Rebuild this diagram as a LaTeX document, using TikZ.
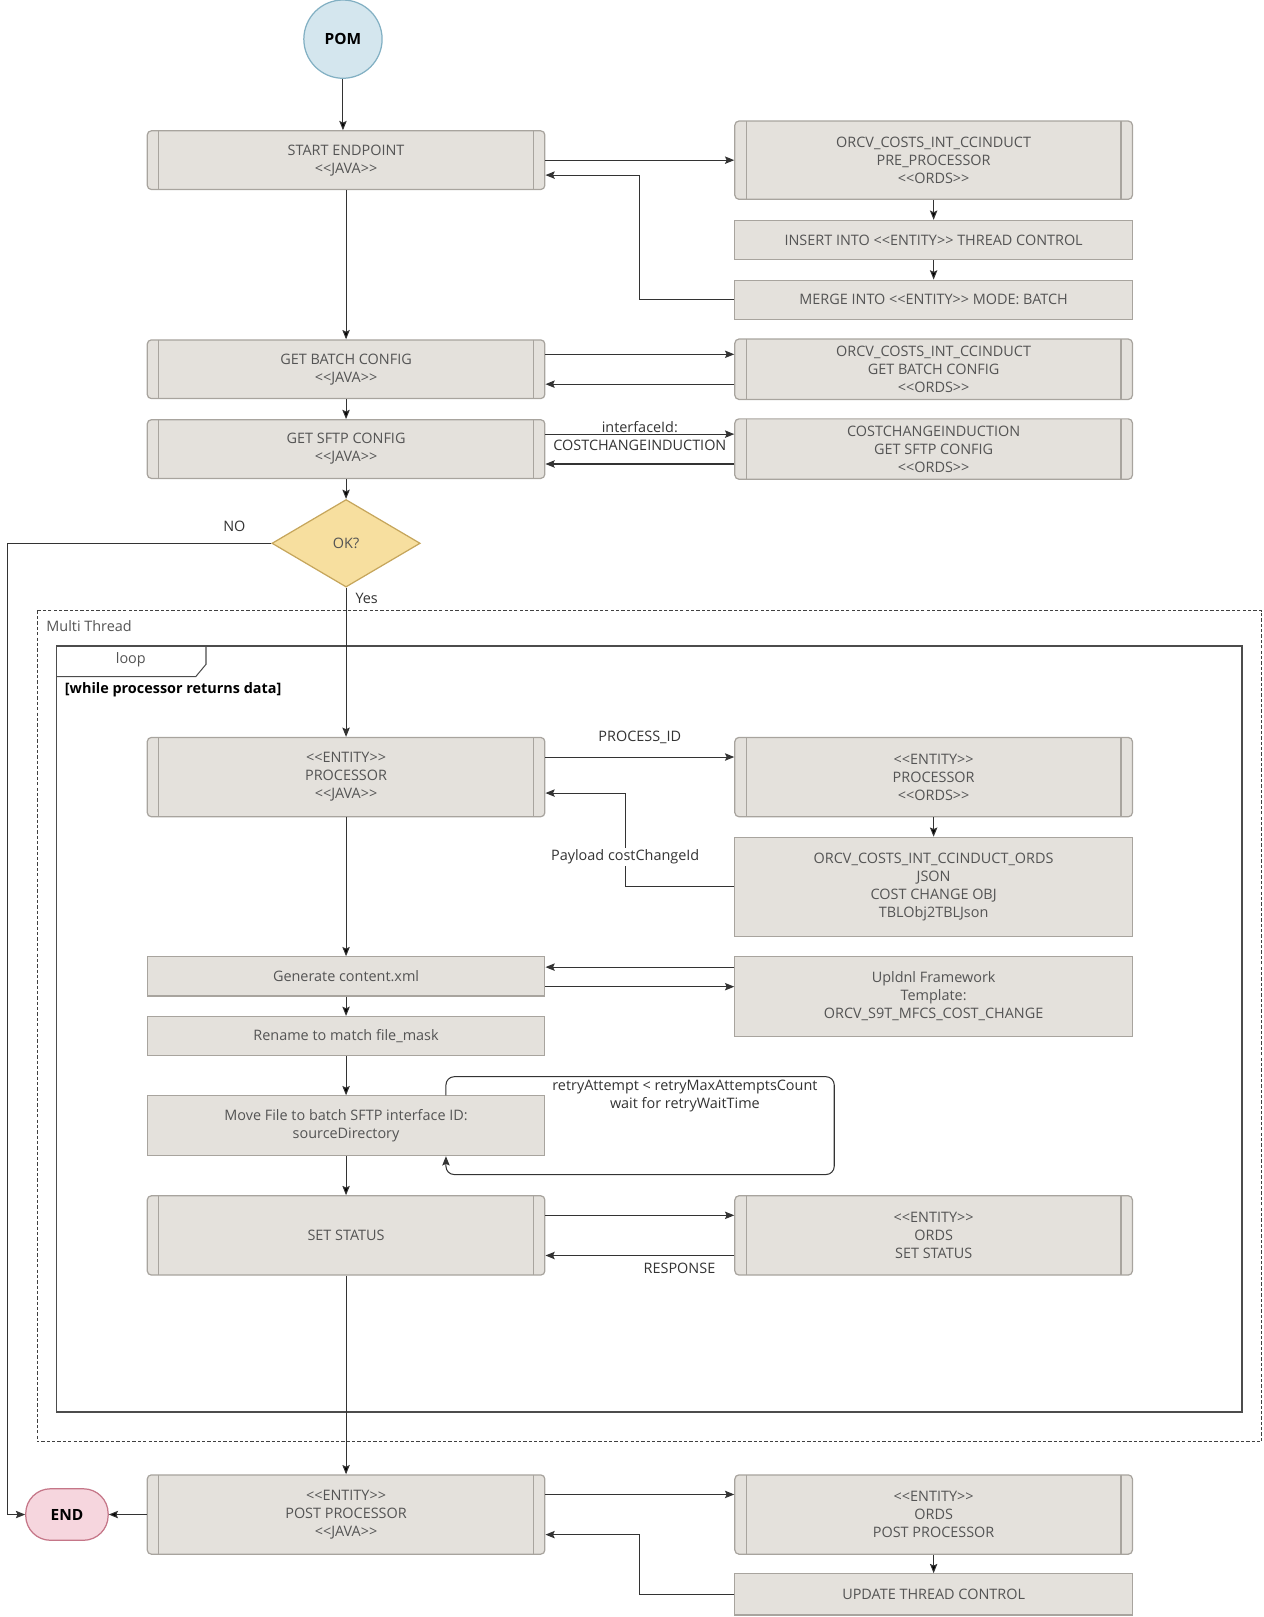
\documentclass[tikz,border=0pt]{standalone}
\usepackage{fontspec}
\setmainfont{Open Sans}
\usetikzlibrary{arrows.meta, positioning, shapes.geometric}

\definecolor{boxfill}{HTML}{E4E1DC}
\definecolor{boxline}{HTML}{A8A49E}
\definecolor{boxtext}{HTML}{545454}
\definecolor{linegray}{HTML}{333333}
\definecolor{pomfill}{HTML}{D4E6EE}
\definecolor{pomline}{HTML}{82B0C3}
\definecolor{okfill}{HTML}{F7DF9F}
\definecolor{okline}{HTML}{C6A65C}
\definecolor{endfill}{HTML}{F6D6DE}
\definecolor{endline}{HTML}{C57688}

\newcommand{\stereo}[1]{<\kern0pt<#1>\kern0pt>}

\begin{document}
\begin{tikzpicture}[>={Stealth[length=4.5pt,width=3.6pt,inset=0.8pt]},x=0.5pt,y=-0.5pt,
  font=\fontsize{7}{8.75}\selectfont,
  every node/.style={text=boxtext},
  conn/.style={->,draw=linegray,line width=0.5pt},
  lbl/.style={text=linegray},
  javabox/.style={rectangle,rounded corners=2pt,draw=boxline,line width=0.6pt,fill=boxfill,
    minimum width=193pt,minimum height=28.5pt,align=center,
    path picture={\draw[boxline,line width=0.6pt]
      ([xshift=5.5pt]path picture bounding box.north west) -- ([xshift=5.5pt]path picture bounding box.south west)
      ([xshift=-5.5pt]path picture bounding box.north east) -- ([xshift=-5.5pt]path picture bounding box.south east);}},
  plainbox/.style={rectangle,draw=boxline,line width=0.6pt,fill=boxfill,
    minimum width=193pt,minimum height=19pt,align=center},
  pom/.style={circle,draw=pomline,line width=0.6pt,fill=pomfill,minimum size=38pt,inner sep=0pt,
    text=black,font=\fontsize{7.5}{9}\selectfont\bfseries},
  okdiamond/.style={diamond,draw=okline,line width=0.6pt,fill=okfill,aspect=1.69,
    minimum width=72pt,minimum height=42.5pt,inner sep=0pt},
  endnode/.style={rectangle,rounded corners=12pt,draw=endline,line width=0.6pt,fill=endfill,
    minimum width=40pt,minimum height=25pt,text=black,font=\fontsize{7.5}{9}\selectfont\bfseries}]
  \useasboundingbox (0,0) rectangle (1227,1570);

  % frames
  \draw[draw=black!75,line width=0.5pt,dash pattern=on 1.6pt off 1pt] (36,593) rectangle (1225,1400);
  \node[anchor=west] (multi) at (38,608) {Multi Thread};
  \draw[draw=black!70,line width=0.7pt] (55,627) rectangle (1206,1371);
  \draw[draw=black!70,line width=0.5pt] (55,657) -- (190,657) -- (200,645) -- (200,627);
  \node (loop) at (127,641) {loop};
  \node[anchor=west,text=black,font=\fontsize{7}{8.75}\selectfont\bfseries] (cond) at (56,670) {[while processor returns data]};

  % nodes
  \node[pom] (pom) at (333,38) {POM};
  \node[javabox] (start) [below of=pom, node distance=58.75pt, xshift=1.5pt] {START ENDPOINT\\\stereo{JAVA}};
  \node[javabox, minimum height=38pt] (pre) [right of=start, node distance=285.25pt] {ORCV\_COSTS\_INT\_CCINDUCT\\PRE\_PROCESSOR\\\stereo{ORDS}};
  \node[plainbox] (insert) [below of=pre, node distance=38.75pt] {INSERT INTO \stereo{ENTITY} THREAD CONTROL};
  \node[plainbox] (merge) [below of=insert, node distance=29pt] {MERGE INTO \stereo{ENTITY} MODE: BATCH};
  \node[javabox] (batch) [below of=start, node distance=101.5pt] {GET BATCH CONFIG\\\stereo{JAVA}};
  \node[javabox] (batchords) [right of=batch, node distance=285.25pt] {ORCV\_COSTS\_INT\_CCINDUCT\\GET BATCH CONFIG\\\stereo{ORDS}};
  \node[javabox] (sftp) [below of=batch, node distance=38.75pt] {GET SFTP CONFIG\\\stereo{JAVA}};
  \node[javabox] (sftpords) [right of=sftp, node distance=285.25pt] {COSTCHANGEINDUCTION\\GET SFTP CONFIG\\\stereo{ORDS}};
  \node[okdiamond] (ok) [below of=sftp, node distance=45.75pt] {OK?};
  \node[javabox, minimum height=38.5pt] (proc) [below of=ok, node distance=113.5pt] {\stereo{ENTITY}\\PROCESSOR\\\stereo{JAVA}};
  \node[javabox, minimum height=38.5pt] (procords) [right of=proc, node distance=285.25pt] {\stereo{ENTITY}\\PROCESSOR\\\stereo{ORDS}};
  \node[plainbox, minimum height=48pt] (ordsjson) [below of=procords, node distance=53.25pt] {ORCV\_COSTS\_INT\_CCINDUCT\_ORDS\\JSON\\COST CHANGE OBJ\\TBLObj2TBLJson};
  \node[plainbox] (gen) [below of=proc, node distance=96.75pt] {Generate content.xml};
  \node[plainbox, minimum height=38.5pt] (upldnl) [below of=ordsjson, node distance=53.25pt] {Upldnl Framework\\Template:\\ORCV\_S9T\_MFCS\_COST\_CHANGE};
  \node[plainbox] (rename) [below of=gen, node distance=29pt] {Rename to match file\_mask};
  \node[plainbox, minimum height=29pt] (move) [below of=rename, node distance=43.5pt] {Move File to batch SFTP interface ID:\\sourceDirectory};
  \node[javabox, minimum height=38.5pt] (setstatus) [below of=move, node distance=53.25pt] {SET STATUS};
  \node[javabox, minimum height=38.5pt] (setords) [right of=setstatus, node distance=285.25pt] {\stereo{ENTITY}\\ORDS\\SET STATUS};
  \node[javabox, minimum height=38.5pt] (post) [below of=setstatus, node distance=135.5pt] {\stereo{ENTITY}\\POST PROCESSOR\\\stereo{JAVA}};
  \node[javabox, minimum height=38.5pt] (postords) [right of=post, node distance=285.25pt] {\stereo{ENTITY}\\ORDS\\POST PROCESSOR};
  \node[plainbox, minimum height=20pt] (update) [below of=postords, node distance=38.75pt] {UPDATE THREAD CONTROL};
  \node[endnode] (end) [left of=post, node distance=135.5pt] {END};

  % straight flow
  \path[conn]
    (pom) edge (pom |- start.north)
    (start) edge (batch)
    (batch) edge (sftp)
    (sftp) edge (ok)
    (pre) edge (insert)
    (insert) edge (merge)
    (procords) edge (ordsjson)
    (proc) edge (gen)
    (gen) edge (rename)
    (rename) edge (move)
    (move) edge (setstatus)
    (setstatus) edge (post)
    (postords) edge (update)
    (post) edge (end);

  % calls and returns
  \draw[conn] (start.east) -- (start.east -| pre.west);
  \draw[conn] (merge.west) -- ++(-46pt,0) |- ([yshift=-7.25pt]start.east);
  \draw[conn] ([yshift=7.25pt]batch.east) -- ([yshift=7.25pt]batch.east -| batchords.west);
  \draw[conn] ([yshift=-7.25pt]batch.east -| batchords.west) -- ([yshift=-7.25pt]batch.east);
  \draw[conn] ([yshift=7.25pt]sftp.east) --
    node[lbl, above, inner sep=0.5pt] {interfaceId:}
    node[lbl, below=1.5pt, inner sep=1pt] {COSTCHANGEINDUCTION}
    ([yshift=7.25pt]sftp.east -| sftpords.west);
  \draw[conn] ([yshift=-7.25pt]sftp.east -| sftpords.west) -- ([yshift=-7.25pt]sftp.east);
  \draw[conn] (ok.west) -- node[lbl, pos=0.14, above=2pt] {NO} ++(-128pt,0) |- (end.west);
  \draw[conn] (ok.south) -- node[lbl, pos=0.07, right=1pt] {Yes} (proc.north);
  \draw[conn] ([yshift=9.75pt]proc.east) -- node[lbl, above=3pt] {PROCESS\_ID} ([yshift=9.75pt]proc.east -| procords.west);
  \draw[conn] (ordsjson.west) -- ++(-53pt,0) |- ([yshift=-7.75pt]proc.east);
  \node[lbl, fill=white, inner sep=1pt] (payload) at (607,832) {Payload costChangeId};
  \draw[conn] ([yshift=4.5pt]gen.east -| upldnl.west) -- ([yshift=4.5pt]gen.east);
  \draw[conn] ([yshift=-5pt]gen.east) -- ([yshift=-5pt]gen.east -| upldnl.west);
  \draw[conn, rounded corners=4pt] ([xshift=48.5pt]move.north) -- ++(0,9pt) -- ++(188.5pt,0)
    -- ++(0,-47.5pt) -- ++(-188.5pt,0) -- ([xshift=48.5pt]move.south);
  \node[lbl, align=center] (retry) at (665,1064) {retryAttempt < retryMaxAttemptsCount\\wait for retryWaitTime};
  \draw[conn] ([yshift=9.75pt]setstatus.east) -- ([yshift=9.75pt]setstatus.east -| setords.west);
  \draw[conn] ([yshift=-9.75pt]setstatus.east -| setords.west) --
    node[lbl, pos=0.29, below] {RESPONSE} ([yshift=-9.75pt]setstatus.east);
  \draw[conn] ([yshift=9.75pt]post.east) -- ([yshift=9.75pt]post.east -| postords.west);
  \draw[conn] (update.west) -- ++(-46pt,0) |- ([yshift=-9.75pt]post.east);
\end{tikzpicture}
\end{document}
